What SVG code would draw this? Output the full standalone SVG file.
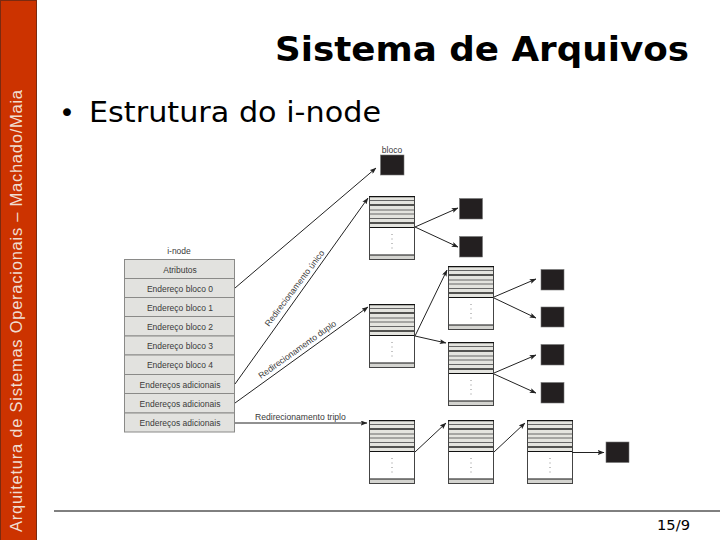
<svg xmlns="http://www.w3.org/2000/svg" xmlns:xlink="http://www.w3.org/1999/xlink" width="720" height="540" viewBox="0 0 720 540">
<style>
.s{font-family:"Liberation Sans",Arial,sans-serif;fill:#3a3a3a}
.r{font-size:8.5px;text-anchor:middle}
.l{font-size:8.6px}
.v{font-family:"DejaVu Sans",Verdana,sans-serif;fill:#000}
.row{fill:#e2e2df;stroke:#8a8a88;stroke-width:1}
.blk{fill:#231f20;stroke:#777;stroke-width:.6}
.c{fill:none;stroke:#222;stroke-width:1;marker-end:url(#a)}
</style>
<defs>
<marker id="a" viewBox="0 0 8 6" refX="7.500" refY="3" markerWidth="7" markerHeight="5" markerUnits="userSpaceOnUse" orient="auto"><path d="M0 0L8 3L0 6L1.500 3Z" fill="#222"/></marker>
<g id="ib">
<rect width="46" height="64" fill="#fff"/>
<rect width="46" height="32" fill="#e4e4df"/>
<rect y="59" width="46" height="5" fill="#d4d4d0"/>
<path d="M0 4.500H46M0 14H46M0 18H46M0 22.500H46" stroke="#666" stroke-width="1" fill="none"/>
<path d="M0 9H46M0 27H46" stroke="#222" stroke-width="1.300" fill="none"/>
<path d="M0 31.500H46M0 59H46" stroke="#111" stroke-width="1.200" fill="none"/>
<rect x=".5" y=".5" width="45" height="63" fill="none" stroke="#444" stroke-width="1"/>
<path d="M0 .7H46" stroke="#111" stroke-width="1.300" fill="none"/>
<path d="M23 38V56" stroke="#888" stroke-width="1" stroke-dasharray="1 3.500" fill="none"/>
</g>
</defs>
<rect width="720" height="540" fill="#fff"/>
<g id="sidebar">
<rect x=".5" y=".5" width="36" height="540" fill="#cc3300" stroke="#7a2a10" stroke-width="1"/>
<text transform="translate(21.500,532) rotate(-90)" font-family="'Liberation Sans',Arial,sans-serif" font-size="16.500" fill="#f0ddd0" textLength="442" lengthAdjust="spacing">Arquitetura de Sistemas Operacionais – Machado/Maia</text>
</g>
<text id="title" class="v" x="275" y="61" font-weight="700" font-size="33" textLength="414" lengthAdjust="spacingAndGlyphs">Sistema de Arquivos</text>
<g id="bullet">
<text class="v" x="59" y="122" font-size="27">•</text>
<text class="v" x="89" y="122" font-size="27.500" textLength="292" lengthAdjust="spacingAndGlyphs">Estrutura do i-node</text>
</g>
<g id="inode">
<text class="s r" x="179" y="254">i-node</text>
<g id="inode-rows">
<rect class="row" x="124.500" y="259.500" width="110" height="19"/>
<rect class="row" x="124.500" y="278.500" width="110" height="19"/>
<rect class="row" x="124.500" y="297.500" width="110" height="19"/>
<rect class="row" x="124.500" y="316.500" width="110" height="19.500"/>
<rect class="row" x="124.500" y="336" width="110" height="19"/>
<rect class="row" x="124.500" y="355" width="110" height="19.500"/>
<rect class="row" x="124.500" y="374.500" width="110" height="19"/>
<rect class="row" x="124.500" y="393.500" width="110" height="19.500"/>
<rect class="row" x="124.500" y="413" width="110" height="19"/>
</g>
<text class="s r" x="180" y="272.500">Atributos</text>
<text class="s r" x="180" y="291.500">Endereço bloco 0</text>
<text class="s r" x="180" y="310.500">Endereço bloco 1</text>
<text class="s r" x="180" y="329.500">Endereço bloco 2</text>
<text class="s r" x="180" y="349">Endereço bloco 3</text>
<text class="s r" x="180" y="368">Endereço bloco 4</text>
<text class="s r" x="180" y="387.500">Endereços adicionais</text>
<text class="s r" x="180" y="407">Endereços adicionais</text>
<text class="s r" x="180" y="426">Endereços adicionais</text>
</g>
<g id="indirect-blocks">
<use id="ib1" xlink:href="#ib" x="369" y="196"/>
<use id="ib2" xlink:href="#ib" x="369" y="304"/>
<use id="ib3" xlink:href="#ib" x="448" y="266"/>
<use id="ib4" xlink:href="#ib" x="448" y="342"/>
<use id="ib5" xlink:href="#ib" x="369" y="420"/>
<use id="ib6" xlink:href="#ib" x="448" y="420"/>
<use id="ib7" xlink:href="#ib" x="527" y="420"/>
</g>
<g id="data-blocks">
<g id="d0"><text class="s r" x="392" y="153">bloco</text><rect class="blk" x="380.500" y="155" width="23.500" height="20"/></g>
<rect id="d1" class="blk" x="459.500" y="198.500" width="23" height="20.500"/>
<rect id="d2" class="blk" x="459.500" y="236.500" width="23" height="20.500"/>
<rect id="d3" class="blk" x="541" y="269.500" width="23" height="20.500"/>
<rect id="d4" class="blk" x="541" y="307" width="23" height="20"/>
<rect id="d5" class="blk" x="541" y="344.500" width="23" height="20.500"/>
<rect id="d6" class="blk" x="541" y="382.500" width="23" height="20.500"/>
<rect id="d7" class="blk" x="606" y="442" width="23" height="20.500"/>
</g>
<g id="connectors">
<path class="c" d="M235 288L376 168"/>
<path class="c" d="M235 384L368 198"/>
<path class="c" d="M235 403L368 307"/>
<path class="c" d="M235 423H367"/>
<path class="c" d="M415 227L458 208"/>
<path class="c" d="M415 227L458 247"/>
<path class="c" d="M415 336L447 270"/>
<path class="c" d="M415 336L446 343"/>
<path class="c" d="M494 297L536 279"/>
<path class="c" d="M494 298L536 318"/>
<path class="c" d="M494 373L536 355"/>
<path class="c" d="M494 374L536 393"/>
<path class="c" d="M415 452L446 423"/>
<path class="c" d="M494 452L525 423"/>
<path class="c" d="M572 452.500H604"/>
</g>
<g id="connector-labels">
<text class="s l" transform="translate(269,327) rotate(-53)">Redirecionamento único</text>
<text class="s l" transform="translate(261,379) rotate(-35.500)">Redirecionamento duplo</text>
<text class="s l" x="255" y="420">Redirecionamento triplo</text>
</g>
<g id="footer">
<path d="M54 511H720" stroke="#000" stroke-width="1" fill="none"/>
<text class="v" x="657" y="530" font-size="13.500" textLength="33" lengthAdjust="spacingAndGlyphs">15/9</text>
</g>
</svg>
